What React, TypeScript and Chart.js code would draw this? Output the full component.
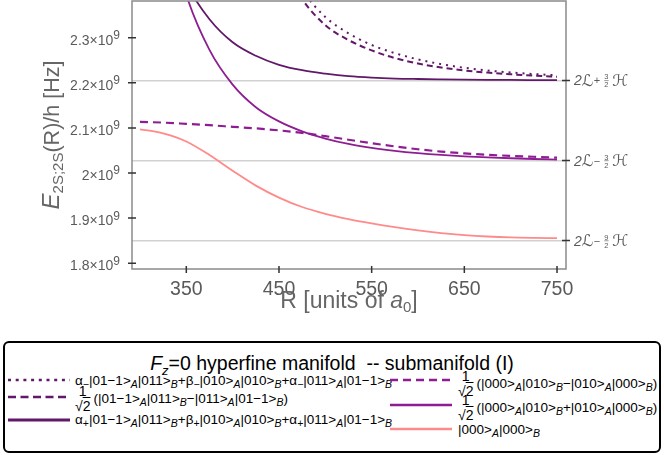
import React, { useEffect, useRef } from "react";
import { Chart, registerables } from "chart.js";

Chart.register(...registerables);

// ---------------- data ----------------
const R_VALUES = [300, 325, 350, 375, 400, 425, 450, 475, 500, 525, 550, 575, 600, 625, 650, 675, 700, 725, 750];

// alpha- |01-1>|011> + beta- |010>|010> + alpha- |011>|01-1>   (dotted)
const alphaMinusState = [4.6, 4.0, 3.5, 3.1, 2.82, 2.62, 2.486, 2.405, 2.346, 2.31, 2.284, 2.266, 2.252, 2.2415, 2.2335, 2.2275, 2.223, 2.2195, 2.2168];
// 1/sqrt2 (|01-1>|011> - |011>|01-1>)   (dashed, dark)
const antiSym011State = [5.0, 4.4, 3.8, 3.3, 2.9, 2.64, 2.481, 2.386, 2.328, 2.295, 2.272, 2.255, 2.243, 2.234, 2.2275, 2.2227, 2.219, 2.216, 2.2135];
// alpha+ ... (solid, dark)
const alphaPlusState = [2.72, 2.54, 2.42, 2.341, 2.29, 2.26, 2.24, 2.228, 2.2205, 2.2148, 2.2115, 2.2095, 2.2085, 2.2078, 2.2072, 2.2067, 2.2064, 2.2062, 2.206];
// 1/sqrt2 (|000>|010> - |010>|000>)   (dashed, medium)
const antiSym010State = [2.1135, 2.1118, 2.109, 2.106, 2.1025, 2.099, 2.0945, 2.089, 2.0818, 2.0738, 2.066, 2.059, 2.0527, 2.0475, 2.0435, 2.0405, 2.038, 2.036, 2.034];
// 1/sqrt2 (|000>|010> + |010>|000>)   (solid, medium)
const sym010State = [2.9, 2.59, 2.395, 2.273, 2.196, 2.146, 2.1145, 2.0925, 2.0765, 2.0645, 2.0558, 2.0492, 2.0441, 2.0401, 2.037, 2.0346, 2.0327, 2.0311, 2.0297];
// |000>|000>   (solid, pink)
const groundState = [2.097, 2.088, 2.07, 2.04, 2.005, 1.972, 1.9455, 1.9245, 1.9095, 1.8977, 1.8882, 1.8799, 1.8727, 1.8667, 1.8622, 1.8591, 1.8571, 1.8561, 1.8555];

// y values are in units of 10^9 Hz
const Y_TICKS = [1.8, 1.9, 2.0, 2.1, 2.2, 2.3];
const Y_TICK_MANTISSAS = ["1.8", "1.9", "2", "2.1", "2.2", "2.3"];
const X_TICKS = [350, 450, 550, 650, 750];
const ASYMPTOTE_LEVELS = [2.2053, 2.0277, 1.8501];
const ASYMPTOTE_SIGNS = ["+", "\u2212", "\u2212"];
const ASYMPTOTE_NUMERATORS = ["3", "3", "9"];

const X_MIN = 291.4;
const X_MAX = 759.7;
const Y_MIN = 1.787;
const Y_MAX = 2.3816;

// ---------------- styles ----------------
const DARK = "#611868";
const MED = "#8e1d93";
const PINK = "#ff8a8a";
const FONT = '"Liberation Sans", Arial, sans-serif';
const GRAY_TEXT = "#5a5a5a";

const CANVAS_H = 335;

const decorPlugin = {
  id: "decor",
  afterDatasetsDraw(chart: any) {
    const { ctx, chartArea: a, scales } = chart;
    const ys = scales.y;
    const yr = scales.yr;
    const xs = scales.x;
    ctx.save();
    // frame
    ctx.strokeStyle = "#8a8a8a";
    ctx.lineWidth = 1.5;
    ctx.strokeRect(a.left, a.top, a.right - a.left, a.bottom - a.top);

    // tick marks
    ctx.strokeStyle = "#333";
    ctx.lineWidth = 1.5;
    ctx.beginPath();
    Y_TICKS.forEach((v) => {
      const y = ys.getPixelForValue(v);
      ctx.moveTo(a.left - 4, y);
      ctx.lineTo(a.left + 4, y);
    });
    X_TICKS.forEach((v) => {
      const x = xs.getPixelForValue(v);
      ctx.moveTo(x, a.bottom - 3);
      ctx.lineTo(x, a.bottom + 4);
    });
    ASYMPTOTE_LEVELS.forEach((v) => {
      const y = yr.getPixelForValue(v);
      ctx.moveTo(a.right - 4, y);
      ctx.lineTo(a.right + 4, y);
    });
    ctx.stroke();

    ctx.fillStyle = GRAY_TEXT;
    ctx.textBaseline = "alphabetic";

    // y tick labels  m×10^9
    Y_TICKS.forEach((v, i) => {
      const y = ys.getPixelForValue(v);
      const xr = a.left - 12;
      ctx.font = `12px ${FONT}`;
      const wSup = ctx.measureText("9").width;
      ctx.textAlign = "left";
      ctx.fillText("9", xr - wSup, y + 1.5);
      ctx.font = `14px ${FONT}`;
      const main = `${Y_TICK_MANTISSAS[i]}\u00d710`;
      const wMain = ctx.measureText(main).width;
      ctx.fillText(main, xr - wSup - wMain, y + 7);
    });

    // x tick labels
    ctx.font = `19.5px ${FONT}`;
    ctx.textAlign = "center";
    X_TICKS.forEach((v) => {
      const x = xs.getPixelForValue(v);
      ctx.fillText(String(v), x, a.bottom + 26);
    });

    // x title: R [units of a0]
    {
      ctx.fillStyle = "#666";
      ctx.textAlign = "left";
      const p1 = "R [units of ";
      ctx.font = `23px ${FONT}`;
      const w1 = ctx.measureText(p1).width;
      ctx.font = `italic 23px ${FONT}`;
      const w2 = ctx.measureText("a").width;
      ctx.font = `15px ${FONT}`;
      const w3 = ctx.measureText("0").width;
      ctx.font = `23px ${FONT}`;
      const w4 = ctx.measureText("]").width;
      const total = w1 + w2 + w3 + w4;
      let x = (a.left + a.right) / 2 - total / 2;
      const by = a.bottom + 39;
      ctx.font = `23px ${FONT}`;
      ctx.fillText(p1, x, by);
      x += w1;
      ctx.font = `italic 23px ${FONT}`;
      ctx.fillText("a", x, by);
      x += w2;
      ctx.font = `15px ${FONT}`;
      ctx.fillText("0", x, by + 4);
      x += w3;
      ctx.font = `23px ${FONT}`;
      ctx.fillText("]", x, by);
    }

    // y title: E_{2S;2S}(R)/h [Hz]
    {
      ctx.save();
      ctx.fillStyle = "#666";
      ctx.translate(59, (a.top + a.bottom) / 2);
      ctx.rotate(-Math.PI / 2);
      ctx.textAlign = "left";
      ctx.font = `italic 24px ${FONT}`;
      const wE = ctx.measureText("E").width;
      ctx.font = `15px ${FONT}`;
      const wS = ctx.measureText("2S;2S").width;
      ctx.font = `21.5px ${FONT}`;
      const wR = ctx.measureText("(R)/h [Hz]").width;
      let x = -(wE + wS + wR) / 2;
      ctx.font = `italic 24px ${FONT}`;
      ctx.fillText("E", x, 0);
      x += wE;
      ctx.font = `15px ${FONT}`;
      ctx.fillText("2S;2S", x, 4);
      x += wS;
      ctx.font = `21.5px ${FONT}`;
      ctx.fillText("(R)/h [Hz]", x, 0);
      ctx.restore();
    }

    // right labels: 2L ± n/2 H
    ctx.fillStyle = GRAY_TEXT;
    ctx.textAlign = "left";
    ASYMPTOTE_LEVELS.forEach((v, i) => {
      const y = yr.getPixelForValue(v);
      let x = a.right + 8;
      ctx.font = `italic 14px ${FONT}`;
      ctx.fillText("2", x, y + 5);
      x += ctx.measureText("2").width;
      ctx.font = `italic 16px "DejaVu Sans"`;
      ctx.fillText("\u2112", x, y + 5.5);
      x += ctx.measureText("\u2112").width + 0.5;
      ctx.font = `11px ${FONT}`;
      ctx.fillText(ASYMPTOTE_SIGNS[i], x, y + 4);
      x += ctx.measureText(ASYMPTOTE_SIGNS[i]).width + 4;
      ctx.font = `7.5px ${FONT}`;
      ctx.textAlign = "center";
      ctx.fillText(ASYMPTOTE_NUMERATORS[i], x + 2.2, y - 1);
      ctx.fillText("2", x + 2.2, y + 7);
      ctx.fillRect(x, y, 4.4, 0.6);
      ctx.textAlign = "left";
      x += 8;
      ctx.font = `italic 16px "DejaVu Sans"`;
      ctx.fillText("\u210b", x, y + 5.5);
    });

    ctx.restore();
  },
};

const toXY = (ys: number[]) => R_VALUES.map((x, i) => ({ x, y: ys[i] }));

const subStyle: React.CSSProperties = { fontSize: 10.5, fontStyle: "italic", position: "relative", top: 3 };

function Ket({ s, sub }: { s: string; sub: string }) {
  return (
    <>
      |{s}&gt;<span style={subStyle}>{sub}</span>
    </>
  );
}

function Coef({ g, sign }: { g: string; sign: string }) {
  return (
    <>
      {g}
      <span style={{ fontSize: 10.5, position: "relative", top: 3 }}>{sign}</span>
    </>
  );
}

function InvSqrt2() {
  return (
    <span
      style={{
        display: "inline-flex",
        flexDirection: "column",
        alignItems: "center",
        verticalAlign: "middle",
        lineHeight: "15px",
        fontSize: 14,
        marginRight: 3,
      }}
    >
      <span>1</span>
      <span>
        √<span style={{ textDecoration: "overline" }}>2</span>
      </span>
    </span>
  );
}

function Sample({ x, y, w, color, dash, width }: { x: number; y: number; w: number; color: string; dash?: string; width: number }) {
  return (
    <svg style={{ position: "absolute", left: x - 5, top: y - 343 - 4 }} width={w} height={8}>
      <line x1={0} y1={4} x2={w} y2={4} stroke={color} strokeWidth={width} strokeDasharray={dash} />
    </svg>
  );
}

function Txt({ x, y, children }: { x: number; y: number; children: React.ReactNode }) {
  return (
    <div
      style={{
        position: "absolute",
        left: x - 5,
        top: y - 343,
        transform: "translateY(-50%)",
        whiteSpace: "nowrap",
        fontSize: 13.5,
        color: "#000",
        lineHeight: "16px",
      }}
    >
      {children}
    </div>
  );
}

export default function App() {
  const ref = useRef<HTMLCanvasElement | null>(null);

  useEffect(() => {
    if (!ref.current) return;
    const common = { pointRadius: 0, cubicInterpolationMode: "monotone" as const, fill: false, borderCapStyle: "butt" as const };
    const chart = new Chart(ref.current, {
      type: "line",
      data: {
        datasets: [
          { label: "alpha-", data: toXY(alphaMinusState), borderColor: DARK, borderWidth: 2, borderDash: [2, 5], ...common },
          { label: "antisym 011", data: toXY(antiSym011State), borderColor: DARK, borderWidth: 2, borderDash: [6, 4], ...common },
          { label: "alpha+", data: toXY(alphaPlusState), borderColor: DARK, borderWidth: 1.8, ...common },
          { label: "antisym 010", data: toXY(antiSym010State), borderColor: MED, borderWidth: 2.2, borderDash: [8, 5], ...common },
          { label: "sym 010", data: toXY(sym010State), borderColor: MED, borderWidth: 1.8, ...common },
          { label: "ground", data: toXY(groundState), borderColor: PINK, borderWidth: 1.8, ...common },
        ],
      },
      options: {
        animation: false,
        responsive: true,
        maintainAspectRatio: false,
        events: [],
        layout: { padding: { top: 1, left: 0, right: 0, bottom: 0 } },
        plugins: { legend: { display: false }, tooltip: { enabled: false } },
        scales: {
          x: {
            type: "linear",
            min: X_MIN,
            max: X_MAX,
            afterBuildTicks: (s: any) => {
              s.ticks = X_TICKS.map((v) => ({ value: v }));
            },
            ticks: { display: false },
            grid: { display: false, drawTicks: false },
            border: { display: false },
            afterFit: (s: any) => {
              s.height = CANVAS_H - 269;
            },
          },
          y: {
            type: "linear",
            position: "left",
            min: Y_MIN,
            max: Y_MAX,
            afterBuildTicks: (s: any) => {
              s.ticks = Y_TICKS.map((v) => ({ value: v }));
            },
            ticks: { display: false },
            grid: { display: false, drawTicks: false },
            border: { display: false },
            afterFit: (s: any) => {
              s.width = 132;
            },
          },
          yr: {
            type: "linear",
            position: "right",
            min: Y_MIN,
            max: Y_MAX,
            afterBuildTicks: (s: any) => {
              s.ticks = ASYMPTOTE_LEVELS.map((v) => ({ value: v }));
            },
            ticks: { display: false },
            grid: { display: true, drawTicks: false, color: "#d2d2d2", lineWidth: 1.5 },
            border: { display: false },
            afterFit: (s: any) => {
              s.width = 98;
            },
          },
        },
      },
      plugins: [decorPlugin],
    } as any);
    return () => chart.destroy();
  }, []);

  return (
    <div style={{ position: "absolute", left: 0, top: 0, width: 664, height: 455, background: "#fff", fontFamily: FONT }}>
      <div style={{ position: "absolute", left: 0, top: 0, width: 664, height: CANVAS_H }}>
        <canvas ref={ref} />
      </div>
      <div
        style={{
          position: "absolute",
          left: 3,
          top: 341,
          width: 658,
          height: 112,
          boxSizing: "border-box",
          border: "2px solid #000",
          borderRadius: 6,
          fontFamily: FONT,
        }}
      >
        <div
          style={{
            position: "absolute",
            left: 0,
            width: 654,
            top: 364 - 343,
            transform: "translateY(-50%)",
            textAlign: "center",
            fontSize: 19.5,
            whiteSpace: "pre",
            lineHeight: "22px",
          }}
        >
          <i>F</i>
          <span style={{ fontSize: 13, fontStyle: "italic", position: "relative", top: 5 }}>z</span>
          {"=0 hyperfine manifold  -- submanifold (I)"}
        </div>

        {/* left column */}
        <Sample x={8} y={380} w={62} color={DARK} dash="3 4.7" width={2.6} />
        <Txt x={75} y={381}>
          <Coef g="α" sign="−" />
          <Ket s="01−1" sub="A" />
          <Ket s="011" sub="B" />+<Coef g="β" sign="−" />
          <Ket s="010" sub="A" />
          <Ket s="010" sub="B" />+<Coef g="α" sign="−" />
          <Ket s="011" sub="A" />
          <Ket s="01−1" sub="B" />
        </Txt>

        <Sample x={8} y={397} w={62} color={DARK} dash="8 4.5" width={2.6} />
        <Txt x={75} y={399}>
          <InvSqrt2 />
          (<Ket s="01−1" sub="A" />
          <Ket s="011" sub="B" />−<Ket s="011" sub="A" />
          <Ket s="01−1" sub="B" />)
        </Txt>

        <Sample x={8} y={420} w={62} color={DARK} width={3} />
        <Txt x={75} y={420}>
          <Coef g="α" sign="+" />
          <Ket s="01−1" sub="A" />
          <Ket s="011" sub="B" />+<Coef g="β" sign="+" />
          <Ket s="010" sub="A" />
          <Ket s="010" sub="B" />+<Coef g="α" sign="+" />
          <Ket s="011" sub="A" />
          <Ket s="01−1" sub="B" />
        </Txt>

        {/* right column */}
        <Sample x={390} y={380} w={62} color={MED} dash="8 5" width={2.6} />
        <Txt x={458} y={384}>
          <InvSqrt2 />
          (<Ket s="000" sub="A" />
          <Ket s="010" sub="B" />−<Ket s="010" sub="A" />
          <Ket s="000" sub="B" />)
        </Txt>

        <Sample x={390} y={405} w={62} color={MED} width={2.6} />
        <Txt x={458} y={408}>
          <InvSqrt2 />
          (<Ket s="000" sub="A" />
          <Ket s="010" sub="B" />+<Ket s="010" sub="A" />
          <Ket s="000" sub="B" />)
        </Txt>

        <Sample x={390} y={429} w={62} color={PINK} width={2.6} />
        <Txt x={458} y={430}>
          <Ket s="000" sub="A" />
          <Ket s="000" sub="B" />
        </Txt>
      </div>
    </div>
  );
}
